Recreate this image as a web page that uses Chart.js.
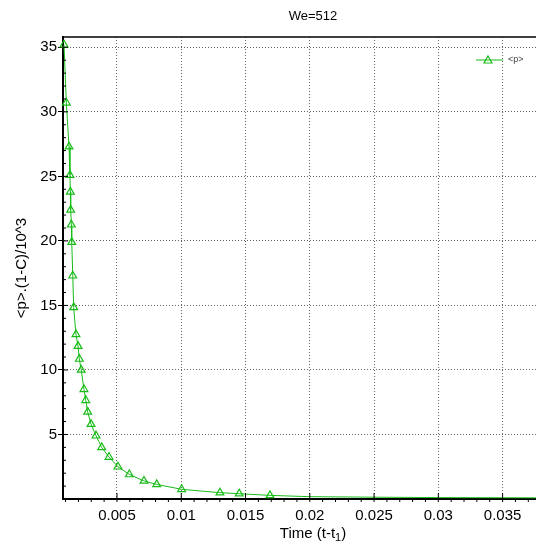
<!DOCTYPE html>
<html>
<head>
<meta charset="utf-8">
<script src="https://cdn.jsdelivr.net/npm/chart.js@4/dist/chart.umd.min.js"></script>
<style>
  body { margin: 0; background: #fff; }
  #wrap { width: 536px; height: 546px; }
</style>
</head>
<body>
<div id="wrap"><canvas id="myChart" width="536" height="546"></canvas></div>
<script>
// data
const times = [0.00088, 0.00106, 0.00127, 0.00134, 0.00137, 0.0014, 0.00145, 0.00148, 0.00156, 0.00163,
  0.00181, 0.00197, 0.00207, 0.00222, 0.00243, 0.00257, 0.00272, 0.00298, 0.00337, 0.00381,
  0.00438, 0.00508, 0.00596, 0.0071, 0.00809, 0.01003, 0.01301, 0.01451, 0.0169,
  0.02, 0.025, 0.03, 0.0376]
const pressure = [35.2, 30.7, 27.3, 25.1, 23.8, 22.4, 21.25, 19.9, 17.3, 14.85,
  12.75, 11.85, 10.85, 10.0, 8.5, 7.65, 6.75, 5.8, 4.9, 4.0,
  3.25, 2.5, 1.9, 1.4, 1.13, 0.75, 0.49, 0.41, 0.28,
  0.18, 0.14, 0.11, 0.09]
const markedPoints = 29  // the tail has no triangles
const xTicks = [0.005, 0.01, 0.015, 0.02, 0.025, 0.03, 0.035]
const yTicks = [5, 10, 15, 20, 25, 30, 35]
const seriesName = "<p>"
const titleText = "We=512"

const green = "#18bb18"
const font = "Liberation Sans"
const ctx = document.getElementById('myChart').getContext('2d')

// frame, minor ticks, titles, legend
const extras = {
  id: 'extras',
  afterDraw(chart) {
    const c = chart.ctx
    const a = chart.chartArea
    const xs = chart.scales.x
    const ys = chart.scales.y
    c.save()
    c.strokeStyle = "#000"
    c.lineWidth = 1.5
    c.beginPath(); c.moveTo(a.left, a.top); c.lineTo(a.right, a.top); c.stroke()
    c.lineWidth = 1
    for (let i = 1; i <= 37; i++) {
      let px = xs.getPixelForValue(i / 1000)
      if (px < a.left) continue
      c.beginPath()
      if (i % 5 === 0) { c.moveTo(px, a.bottom - 6); c.lineTo(px, a.bottom + 3) }
      else { c.moveTo(px, a.bottom); c.lineTo(px, a.bottom + 3) }
      c.stroke()
    }
    for (let v = 1; v <= 35; v++) {
      let py = ys.getPixelForValue(v)
      c.beginPath()
      c.moveTo(a.left, py); c.lineTo(a.left + (v % 5 === 0 ? 5 : 3), py)
      c.stroke()
    }
    // title
    c.fillStyle = "#000"
    c.textAlign = "center"; c.textBaseline = "middle"
    c.font = "13px '" + font + "'"
    c.fillText(titleText, 313, 16)
    // x axis title with subscript
    c.textAlign = "left"
    let p1 = "Time (t-t", p3 = ")"
    c.font = "11px '" + font + "'"
    let w2 = c.measureText("1").width
    c.font = "15px '" + font + "'"
    let w1 = c.measureText(p1).width, w3 = c.measureText(p3).width
    let x0 = 313 - (w1 + w2 + w3) / 2, yT = 534
    c.fillText(p1, x0, yT)
    c.font = "11px '" + font + "'"
    c.fillText("1", x0 + w1, yT + 4)
    c.font = "15px '" + font + "'"
    c.fillText(p3, x0 + w1 + w2, yT)
    // legend
    c.strokeStyle = green; c.lineWidth = 1
    c.beginPath(); c.moveTo(476, 60); c.lineTo(503, 60); c.stroke()
    c.lineWidth = 1.2
    c.beginPath(); c.moveTo(488, 56); c.lineTo(492, 63); c.lineTo(484, 63); c.closePath(); c.stroke()
    c.fillStyle = "#444"
    c.font = "9px '" + font + "'"
    c.fillText(seriesName, 508, 60)
    c.restore()
  }
}

const myChart = new Chart(ctx, {
  type: 'line',
  data: {
    datasets: [{
      label: seriesName,
      data: times.map((t, i) => ({ x: t, y: pressure[i] })),
      borderColor: green,
      borderWidth: 1,
      pointStyle: 'triangle',
      pointRadius: (c) => c.dataIndex < markedPoints ? 4.5 : 0,
      pointBorderColor: green,
      pointBorderWidth: 1.2,
      pointBackgroundColor: 'rgba(255,255,255,0)',
      tension: 0,
      clip: false
    }]
  },
  options: {
    responsive: false,
    animation: false,
    layout: { autoPadding: false, padding: { top: 37, right: 0, left: 0, bottom: 0 } },
    plugins: {
      legend: { display: false },
      title: { display: false },
      tooltip: { enabled: false }
    },
    scales: {
      x: {
        type: 'linear',
        min: 0.0008,
        max: 0.0376,
        afterBuildTicks: (s) => { s.ticks = xTicks.map(v => ({ value: v })) },
        afterFit: (s) => { s.height = 47; s.paddingRight = 0; s.paddingLeft = 0 },
        ticks: {
          color: "#000",
          padding: 8,
          font: { family: font, size: 15 },
          maxRotation: 0,
          autoSkip: false,
          callback: (v) => String(v)
        },
        grid: { color: "#666", lineWidth: 1, drawTicks: false },
        border: { display: true, color: "#000", width: 2, dash: [1, 2] }
      },
      y: {
        min: 0,
        max: 35.8,
        afterBuildTicks: (s) => { s.ticks = yTicks.map(v => ({ value: v })) },
        afterFit: (s) => { s.width = 63; s.paddingTop = 0; s.paddingBottom = 0 },
        ticks: {
          color: "#000",
          padding: 1,
          font: { family: font, size: 15 },
          callback: (v) => String(v)
        },
        grid: { color: "#666", lineWidth: 1, drawTicks: true, tickLength: 5, tickColor: "#000", tickBorderDash: [] },
        border: { display: true, color: "#000", width: 2, dash: [1, 2] },
        title: {
          display: true,
          text: "<p>.(1-C)/10^3",
          color: "#000",
          font: { family: font, size: 15 },
          padding: { top: 13, bottom: 0 }
        }
      }
    }
  },
  plugins: [extras]
})
</script>
</body>
</html>
